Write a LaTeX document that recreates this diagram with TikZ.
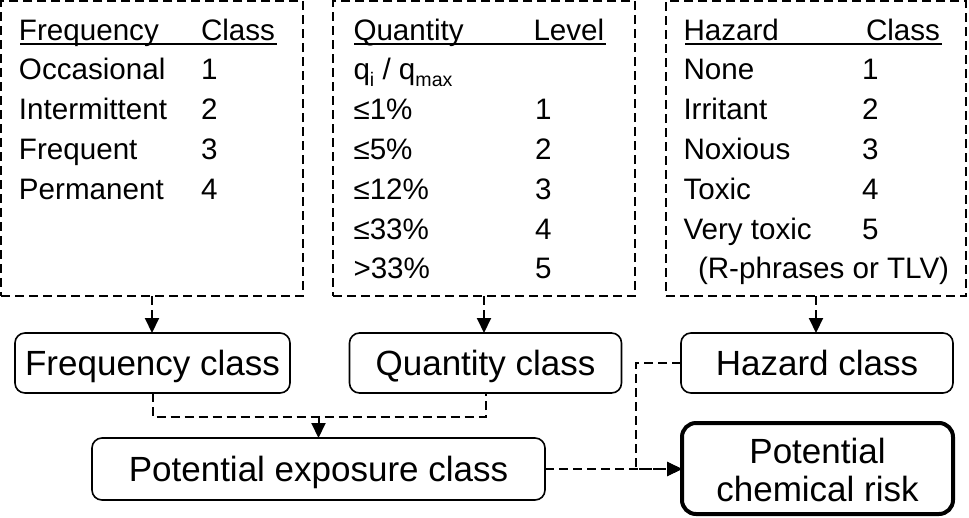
\documentclass[tikz,border=0pt]{standalone}
\usepackage{fontspec}
\setmainfont{Liberation Sans}
\usetikzlibrary{arrows.meta}
\newcommand\mysub[1]{\raisebox{-6.5pt}{\fontsize{19.6}{20}\selectfont #1}}
\begin{document}
\begin{tikzpicture}[x=1pt,y=-1pt,
  tbl/.style={draw, dash pattern=on 9pt off 5pt, line width=2pt, inner sep=0pt, outer sep=0pt},
  cls/.style={draw, rounded corners=10pt, line width=1.6pt, inner sep=0pt, outer sep=0pt,
              font=\fontsize{35}{38}\selectfont, text height=25pt, text depth=0pt},
  big/.style={anchor=base, inner sep=0pt, outer sep=0pt, font=\fontsize{35}{38}\selectfont},
  txt/.style={anchor=base west, inner sep=0pt, outer sep=0pt, font=\fontsize{29.6}{36}\selectfont},
  uline/.style={line width=2pt},
  con/.style={line width=2pt, dash pattern=on 9pt off 5pt},
  arr/.style={con, -{Triangle[length=15pt,width=14pt]}},
]
\useasboundingbox (0,0) rectangle (969,517);

% dashed tables
\node[tbl, minimum width=302pt, minimum height=295pt] (tA) at (152,148.5) {};
\node[tbl, minimum width=302pt, minimum height=295pt] (tB) at (484,148.5) {};
\node[tbl, minimum width=300pt, minimum height=295pt] (tC) at (816,148.5) {};

% table A
\node[txt] (a0) at (19,40) {Frequency};
\node[txt] (a0c) at (201,40) {Class};
\draw[uline] (20,44) -- (277,44);
\foreach \t/\n [count=\i] in {Occasional/1,Intermittent/2,Frequent/3,Permanent/4}{
  \node[txt] (a\i) at (19,{40+39.8*\i}) {\t};
  \node[txt] (a\i c) at (201,{40+39.8*\i}) {\n};
}

% table B
\node[txt] (b0) at (353.5,40) {Quantity};
\node[txt] (b0c) at (533.5,40) {Level};
\draw[uline] (354,44) -- (606,44);
\node[txt] (bq) at (353.5,79.8) {q\mysub{i} / q\mysub{max}};
\foreach \t/\n [count=\i from 2] in {≤1\%/1,≤5\%/2,≤12\%/3,≤33\%/4,>33\%/5}{
  \node[txt] (b\i) at (353.5,{40+39.8*\i}) {\t};
  \node[txt] (b\i c) at (535,{40+39.8*\i}) {\n};
}

% table C
\node[txt] (c0) at (683.5,40) {Hazard};
\node[txt] (c0c) at (866,40) {Class};
\draw[uline] (685,44) -- (942,44);
\foreach \t/\n [count=\i] in {None/1,Irritant/2,Noxious/3,Toxic/4,Very toxic/5}{
  \node[txt] (c\i) at (683.5,{40+39.8*\i}) {\t};
  \node[txt] (c\i c) at (862,{40+39.8*\i}) {\n};
}
\node[txt] (c6) at (698,278.8) {(R-phrases or TLV)};

% class boxes
\node[cls, minimum width=275pt, minimum height=60pt] (fc) at (152.5,363) {Frequency class};
\node[cls, minimum width=272pt, minimum height=60pt] (qc) at (485.5,363) {Quantity class};
\node[cls, minimum width=272pt, minimum height=60pt] (hc) at (817,363) {Hazard class};
\node[cls, minimum width=453pt, minimum height=62pt] (pe) at (318.5,469) {Potential exposure class};
\node[cls, line width=4pt, rounded corners=14pt, minimum width=271pt, minimum height=91pt] (pr) at (817.5,468.5) {};
\node[big] (pr1) at (817.5,463) {Potential};
\node[big] (pr2) at (817.5,501) {chemical risk};

% connectors
\draw[arr] (tA.south) -- (tA.south |- fc.north);
\draw[arr] (tB.south) -- (tB.south |- qc.north);
\draw[arr] (tC.south) -- (tC.south |- hc.north);
\coordinate (jn) at (318.5,417);
\draw[con] (fc.south) |- (jn) -| (qc.south);
\draw[arr] (jn) -- (pe.north);
\draw[arr] (pe.east) -- (pe.east -| pr.west);
\coordinate (hk) at (636,469);
\draw[arr] (hc.west) -| (hk) -- (hk -| pr.west);
\end{tikzpicture}
\end{document}
